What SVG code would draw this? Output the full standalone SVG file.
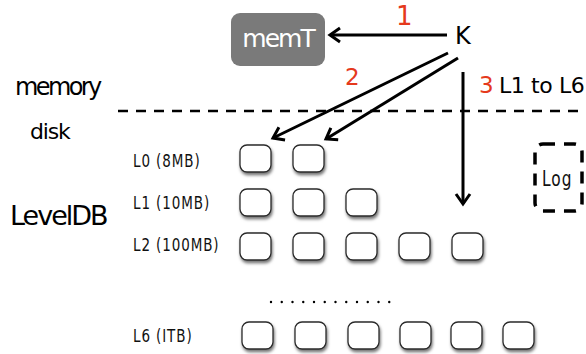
<svg xmlns="http://www.w3.org/2000/svg" width="586" height="354" viewBox="0 0 586 354">
  <defs>
    <filter id="softShadow" x="-30%" y="-30%" width="160%" height="170%">
      <feDropShadow dx="1" dy="2.5" stdDeviation="1.6" flood-color="#000" flood-opacity="0.55"/>
    </filter>
    <marker id="chevron" markerUnits="userSpaceOnUse" markerWidth="20" markerHeight="20" viewBox="-12 -10 14 20" refX="0" refY="0" orient="auto">
      <path d="M-10,-7 L0,0 L-10,7" fill="none" stroke="#000" stroke-width="3" stroke-linejoin="miter"/>
    </marker>
    <style>
      .sst { fill: #fff; stroke: #2a2a2a; stroke-width: 1.3; filter: url(#softShadow); }
      .lbl { font-family: "DejaVu Sans", "Liberation Sans", sans-serif; fill: #000; }
      .num { font-family: "DejaVu Sans", "Liberation Sans", sans-serif; fill: #e5391c; }
      .lvl { font-family: "DejaVu Sans", "Liberation Sans", sans-serif; font-size: 18px; letter-spacing: 1.2px; fill: #111; }
      .arrow { fill: none; stroke: #000; stroke-width: 3; marker-end: url(#chevron); }
    </style>
  </defs>

  <!-- region labels -->
  <g id="labels">
    <text class="lbl" x="15" y="95" font-size="24" letter-spacing="-2.6">memory</text>
    <text class="lbl" x="30" y="139" font-size="22" letter-spacing="-1.2">disk</text>
    <text class="lbl" x="10" y="225" font-size="27" letter-spacing="-2">LevelDB</text>
  </g>

  <!-- memory / disk boundary -->
  <line id="boundary" x1="118" y1="111" x2="586" y2="111" stroke="#000" stroke-width="2.5" stroke-dasharray="10 8"/>

  <!-- memtable -->
  <g id="memT">
    <rect x="231" y="13" width="94" height="53" rx="9" fill="#7a7a7a"/>
    <text class="lbl" x="278" y="47" font-size="25" letter-spacing="-2" text-anchor="middle" style="fill:#fff">memT</text>
  </g>

  <!-- incoming key -->
  <g id="key">
    <text class="lbl" x="455" y="44" font-size="24">K</text>
  </g>

  <!-- connectors -->
  <g id="connectors">
    <line class="arrow" x1="447" y1="35" x2="330" y2="35"/>
    <line class="arrow" x1="448" y1="53" x2="273" y2="138"/>
    <line class="arrow" x1="458" y1="58" x2="326" y2="139"/>
    <line class="arrow" x1="463" y1="72" x2="463" y2="204"/>
  </g>

  <!-- step numbers -->
  <g id="steps">
    <text class="num" x="396" y="25" font-size="26">1</text>
    <text class="num" x="345" y="85" font-size="23">2</text>
    <text class="num" x="479" y="93" font-size="23">3</text>
    <text class="lbl" x="499" y="93" font-size="22" letter-spacing="-0.4">L1 to L6</text>
  </g>

  <!-- level names (tall, narrow lettering) -->
  <g id="levelNames">
    <text class="lvl" transform="translate(133 167) scale(0.75 1)">L0 (8MB)</text>
    <text class="lvl" transform="translate(133 209) scale(0.75 1)">L1 (10MB)</text>
    <text class="lvl" transform="translate(133 251) scale(0.75 1)">L2 (100MB)</text>
    <text class="lvl" transform="translate(133 342) scale(0.75 1)">L6 (ITB)</text>
  </g>

  <!-- sstables per level -->
  <g id="level0">
    <rect class="sst" x="240" y="145" width="31" height="27" rx="7"/>
    <rect class="sst" x="293" y="145" width="31" height="27" rx="7"/>
  </g>
  <g id="level1">
    <rect class="sst" x="240" y="189" width="31" height="27" rx="7"/>
    <rect class="sst" x="293" y="189" width="31" height="27" rx="7"/>
    <rect class="sst" x="346" y="189" width="31" height="27" rx="7"/>
  </g>
  <g id="level2">
    <rect class="sst" x="240" y="233" width="31" height="27" rx="7"/>
    <rect class="sst" x="293" y="233" width="31" height="27" rx="7"/>
    <rect class="sst" x="346" y="233" width="31" height="27" rx="7"/>
    <rect class="sst" x="399" y="233" width="31" height="27" rx="7"/>
    <rect class="sst" x="452" y="233" width="31" height="27" rx="7"/>
  </g>
  <line id="ellipsis" x1="271" y1="302" x2="400" y2="302" stroke="#000" stroke-width="2.4" stroke-linecap="round" stroke-dasharray="0 10.75"/>
  <g id="level6">
    <rect class="sst" x="242" y="322" width="31" height="27" rx="7"/>
    <rect class="sst" x="295" y="322" width="31" height="27" rx="7"/>
    <rect class="sst" x="348" y="322" width="31" height="27" rx="7"/>
    <rect class="sst" x="400" y="322" width="31" height="27" rx="7"/>
    <rect class="sst" x="451" y="322" width="31" height="27" rx="7"/>
    <rect class="sst" x="503" y="322" width="31" height="27" rx="7"/>
  </g>

  <!-- write-ahead log -->
  <g id="log">
    <rect x="535" y="144" width="47" height="67" rx="8" fill="none" stroke="#000" stroke-width="3.5" stroke-dasharray="12 9"/>
    <text class="lvl" transform="translate(542 186) scale(0.7 1)" style="font-size:22px;letter-spacing:1.5px">Log</text>
  </g>
</svg>
